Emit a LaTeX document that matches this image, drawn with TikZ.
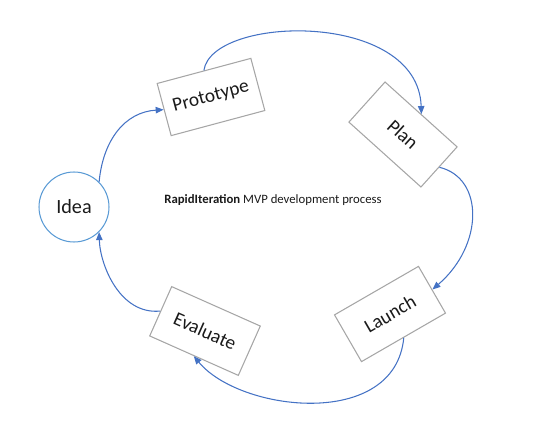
\documentclass[tikz,border=0pt]{standalone}
\usepackage{fontspec}
\setmainfont{Carlito}
\usetikzlibrary{positioning,arrows.meta}
\definecolor{Accent}{HTML}{4472C4}
\definecolor{Sky}{HTML}{5B9BD5}
\definecolor{Gray60}{HTML}{A6A6A6}
\definecolor{Black90}{HTML}{1A1A1A}

\begin{document}
\begin{tikzpicture}[x=0.02cm, y=-0.02cm,
  stage/.style={draw=Gray60, line width=0.6pt, fill=white, minimum width=1.94cm,
    minimum height=1.08cm, inner sep=0pt, text=Black90, font=\fontsize{11}{13}\selectfont},
  flow/.style={Accent, line width=0.6pt, -{Triangle[length=1.6mm, width=1.3mm]}}]
\useasboundingbox (0,0) rectangle (541,432);

% Start of the loop
\node[circle, draw=Sky, line width=0.6pt, minimum size=1.4cm, inner sep=0pt,
  text=Black90, font=\fontsize{11.5}{13}\selectfont] (idea) at (74,207) {Idea};

% Stages of the loop
\node[stage, rotate=15] (proto) at (211,97) {Prototype};
\node[stage, rotate=-42] (plan) at (403,134.5) {Plan};
\node[stage, rotate=30] (launch) at (390,314) {Launch};
\node[stage, rotate=-24] (eval) at (205,331) {Evaluate};

% Caption in the middle
\node[text=Black90, font=\fontsize{7.25}{9}\selectfont] (caption) at (273,200)
  {\textbf{RapidIteration} MVP development process};

% Loop arrows
\draw[flow] (idea.45) .. controls (103,140) and (125,112) .. (proto.west);
\draw[flow] (proto.north) .. controls (212,15) and (418,10) .. (plan.north);
\draw[flow] (plan.east) .. controls (484,178) and (484,245) .. (launch.east);
\draw[flow] (launch.south) .. controls (395,430) and (240,412) .. (eval.south);
\draw[flow] (eval.west) .. controls (120,315) and (100,265) .. (idea.-45);
\end{tikzpicture}
\end{document}
